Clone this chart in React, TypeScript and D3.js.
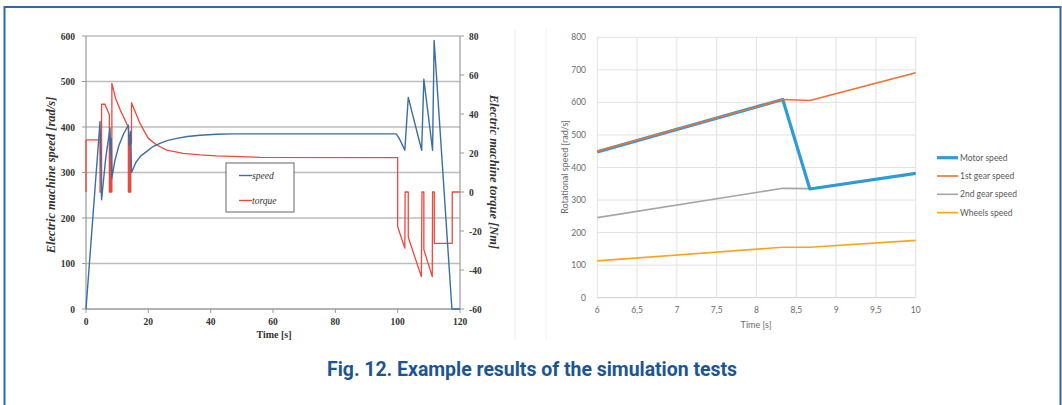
import React from "react";
import * as d3 from "d3";

// ---------- Left chart data ----------
const speedTime = [0, 4.5, 5.0, 6.3, 7.7, 7.9, 8.1, 8.3, 9.3, 10.5, 12, 13.6, 13.9, 14.3, 14.6, 16, 17.5, 19.4, 21.5, 23.7, 26, 29.1, 32.5, 36.6, 42, 47.3, 60, 99.5, 100.5, 102.3, 103.4, 107.7, 108.4, 111.2, 111.7, 117.4, 120];
const speedValues = [0, 412, 240, 330, 398, 340, 375, 288, 327, 358, 384, 404, 360, 390, 300, 322, 336, 346, 357, 364, 370, 375, 379, 382, 384, 385, 385, 385, 375, 349, 465, 349, 505, 349, 590, 0, 0];

const torqueTime = [0, 0, 4.5, 4.5, 5.0, 5.0, 6.1, 7.5, 7.5, 7.65, 7.65, 7.8, 7.8, 7.95, 7.95, 8.1, 8.1, 8.3, 8.3, 9.5, 11, 12.5, 13.6, 13.6, 13.75, 13.75, 13.9, 13.9, 14.05, 14.05, 14.2, 14.2, 14.35, 14.35, 14.6, 14.6, 17.3, 20, 22.7, 25.9, 31.2, 36.6, 41.9, 55.8, 100, 100, 102.3, 102.4, 103.4, 103.4, 107.6, 107.8, 108.4, 108.4, 111.1, 111.2, 111.75, 111.75, 117.5, 117.5, 120];
const torqueValues = [0, 26.7, 26.7, 0, 0, 45, 45, 39.5, 0, 0, 26, 26, 0, 0, 26, 26, 0, 0, 55.7, 48, 42, 37, 33, 0, 0, 25, 25, 0, 0, 25, 25, 0, 0, 25, 25, 45.8, 35.2, 27.5, 24.1, 21.5, 19.8, 19, 18.5, 17.8, 17.6, -17.8, -28.8, 0, 0, -23.2, -43.4, 0, 0, -29.5, -43.4, 0, 0, -26.3, -26.3, 0, 0];

const leftXTicks = [0, 20, 40, 60, 80, 100, 120];
const speedTicks = [0, 100, 200, 300, 400, 500, 600];
const torqueTicks = [-60, -40, -20, 0, 20, 40, 60, 80];

// ---------- Right chart data ----------
const timeR = [6, 8.33, 8.67, 10];
const motorSpeed = [448, 609, 334, 382];
const gear1Speed = [450, 609, 606, 691];
const gear2Speed = [246, 336, 335, 382];
const wheelsSpeed = [113, 155, 155, 176];
const rightXTicks = [6, 6.5, 7, 7.5, 8, 8.5, 9, 9.5, 10];
const rightYTicks = [0, 100, 200, 300, 400, 500, 600, 700, 800];
const rightSeriesNames = ["Motor speed", "1st gear speed", "2nd gear speed", "Wheels speed"];

export default function App() {
  // left scales
  const xL = d3.scaleLinear().domain([0, 120]).range([86, 460]);
  const yS = d3.scaleLinear().domain([0, 600]).range([309, 36]);
  const yT = d3.scaleLinear().domain([-60, 80]).range([309, 36]);

  const speedPts: [number, number][] = speedTime.map((t, i) => [t, speedValues[i]]);
  const torquePts: [number, number][] = torqueTime.map((t, i) => [t, torqueValues[i]]);
  const speedLine = d3.line<[number, number]>().x(d => xL(d[0])).y(d => yS(d[1]))(speedPts) || "";
  const torqueLine = d3.line<[number, number]>().x(d => xL(d[0])).y(d => yT(d[1]))(torquePts) || "";

  // right scales
  const xR = d3.scaleLinear().domain([6, 10]).range([597.3, 915.7]);
  const yR = d3.scaleLinear().domain([0, 800]).range([297.7, 37.3]);
  const rLine = (vals: number[]) =>
    d3.line<number>().x((_, i) => xR(timeR[i])).y(d => yR(d))(vals) || "";

  const rightSeries = [
    { name: rightSeriesNames[2], vals: gear2Speed, color: "#a5a5a5", w: 1.6 },
    { name: rightSeriesNames[3], vals: wheelsSpeed, color: "#ffa319", w: 1.6 },
    { name: rightSeriesNames[0], vals: motorSpeed, color: "#2f9bd6", w: 3.2 },
    { name: rightSeriesNames[1], vals: gear1Speed, color: "#f26f30", w: 1.6 },
  ];
  const legendOrder = [
    { name: rightSeriesNames[0], color: "#2f9bd6", w: 3.2 },
    { name: rightSeriesNames[1], color: "#f26f30", w: 1.6 },
    { name: rightSeriesNames[2], color: "#a5a5a5", w: 1.6 },
    { name: rightSeriesNames[3], color: "#ffa319", w: 1.6 },
  ];

  const serif = "'Liberation Serif', 'DejaVu Serif', serif";
  const sans = "Lato, 'Open Sans', sans-serif";
  const fmtComma = (v: number) => String(v).replace(".", ",");

  return (
    <svg width={1062} height={405} style={{ position: "absolute", left: 0, top: 0, background: "#fff" }}>
      <rect x={0} y={0} width={1062} height={405} fill="#fff" />
      {/* frame */}
      <path d="M4.5,420 L4.5,7 L1060.5,7 L1060.5,420" fill="none" stroke="#2d6aa8" strokeWidth={2} />

      {/* faint separators */}
      <line x1={515} y1={30} x2={515} y2={340} stroke="#ececec" strokeWidth={1} />
      <line x1={546} y1={28} x2={546} y2={340} stroke="#f0f0f0" strokeWidth={1} />

      {/* ===== Left chart ===== */}
      {speedTicks.map(v => (
        <line key={"g" + v} x1={xL(0)} x2={xL(120)} y1={yS(v)} y2={yS(v)} stroke="#bdbdbd" strokeWidth={1.3} />
      ))}
      <line x1={xL(0)} x2={xL(0)} y1={36} y2={309} stroke="#9a9a9a" strokeWidth={1.2} />
      <line x1={xL(120)} x2={xL(120)} y1={36} y2={309} stroke="#9a9a9a" strokeWidth={1.2} />
      <line x1={xL(0)} x2={xL(120)} y1={309} y2={309} stroke="#9a9a9a" strokeWidth={1.2} />
      {speedTicks.map(v => (
        <g key={"s" + v}>
          <line x1={xL(0) - 4} x2={xL(0)} y1={yS(v)} y2={yS(v)} stroke="#9a9a9a" />
          <text x={75} y={yS(v) + 3.5} textAnchor="end" fontFamily={serif} fontWeight="bold" fontSize={9.5} fill="#333">{v}</text>
        </g>
      ))}
      {torqueTicks.map(v => (
        <g key={"t" + v}>
          <line x1={xL(120)} x2={xL(120) + 4} y1={yT(v)} y2={yT(v)} stroke="#9a9a9a" />
          <text x={469} y={yT(v) + 3.5} textAnchor="start" fontFamily={serif} fontWeight="bold" fontSize={9.5} fill="#333">{v}</text>
        </g>
      ))}
      {leftXTicks.map(v => (
        <g key={"x" + v}>
          <line x1={xL(v)} x2={xL(v)} y1={309} y2={313} stroke="#9a9a9a" />
          <text x={xL(v)} y={325} textAnchor="middle" fontFamily={serif} fontWeight="bold" fontSize={9.5} fill="#333">{v}</text>
        </g>
      ))}
      <text x={274} y={338} textAnchor="middle" fontFamily={serif} fontWeight="bold" fontSize={10} fill="#333">Time [s]</text>
      <text transform="translate(55,175) rotate(-90)" textAnchor="middle" fontFamily={serif} fontWeight="bold" fontStyle="italic" fontSize={12.5} fill="#333">Electric machine speed [rad/s]</text>
      <text transform="translate(490,172) rotate(90)" textAnchor="middle" fontFamily={serif} fontWeight="bold" fontStyle="italic" fontSize={12.5} fill="#333">Electric machine torque [Nm]</text>

      <path d={torqueLine} fill="none" stroke="#f0483b" strokeWidth={1.3} strokeLinejoin="round" />
      <path d={speedLine} fill="none" stroke="#3a6ea5" strokeWidth={1.4} strokeLinejoin="round" />

      {/* left legend */}
      <rect x={226} y={163} width={68} height={49} fill="#fff" stroke="#666" strokeWidth={1} />
      <line x1={239} x2={252} y1={175.5} y2={175.5} stroke="#3a6ea5" strokeWidth={1.4} />
      <text x={252} y={178.5} fontFamily={serif} fontStyle="italic" fontSize={9.5} fill="#333">speed</text>
      <line x1={239} x2={252} y1={200.5} y2={200.5} stroke="#f0483b" strokeWidth={1.4} />
      <text x={252} y={203.5} fontFamily={serif} fontStyle="italic" fontSize={9.5} fill="#333">torque</text>

      {/* ===== Right chart ===== */}
      {rightYTicks.map(v => (
        <line key={"ry" + v} x1={xR(6)} x2={xR(10)} y1={yR(v)} y2={yR(v)} stroke={v === 0 ? "#cfcfcf" : "#e2e2e2"} strokeWidth={1} />
      ))}
      {rightXTicks.map(v => (
        <line key={"rx" + v} x1={xR(v)} x2={xR(v)} y1={yR(0)} y2={yR(800)} stroke="#e2e2e2" strokeWidth={1} />
      ))}
      {rightYTicks.map(v => (
        <text key={"ryt" + v} x={586} y={yR(v) + 3} textAnchor="end" fontFamily={sans} fontSize={8.5} fill="#6b6b6b">{v}</text>
      ))}
      {rightXTicks.map(v => (
        <text key={"rxt" + v} x={xR(v)} y={313} textAnchor="middle" fontFamily={sans} fontSize={8.5} fill="#6b6b6b">{fmtComma(v)}</text>
      ))}
      <text x={756} y={328} textAnchor="middle" fontFamily={sans} fontSize={9} fill="#6b6b6b">Time [s]</text>
      <text transform="translate(568,167) rotate(-90)" textAnchor="middle" fontFamily={sans} fontSize={9} fill="#6b6b6b">Rotational speed [rad/s]</text>

      {rightSeries.map(s => (
        <path key={s.name} d={rLine(s.vals)} fill="none" stroke={s.color} strokeWidth={s.w} strokeLinejoin="round" />
      ))}

      {legendOrder.map((s, i) => (
        <g key={"lg" + s.name}>
          <line x1={937} x2={958} y1={157.7 + i * 18.3} y2={157.7 + i * 18.3} stroke={s.color} strokeWidth={s.w} />
          <text x={960} y={160.7 + i * 18.3} fontFamily={sans} fontSize={8.5} fill="#595959">{s.name}</text>
        </g>
      ))}

      {/* caption */}
      <text x={327} y={375.5} fontFamily="Roboto, 'Noto Sans', sans-serif" fontWeight="bold" fontSize={20} fill="#1b5595" textLength={410} lengthAdjust="spacingAndGlyphs">Fig. 12. Example results of the simulation tests</text>
    </svg>
  );
}
